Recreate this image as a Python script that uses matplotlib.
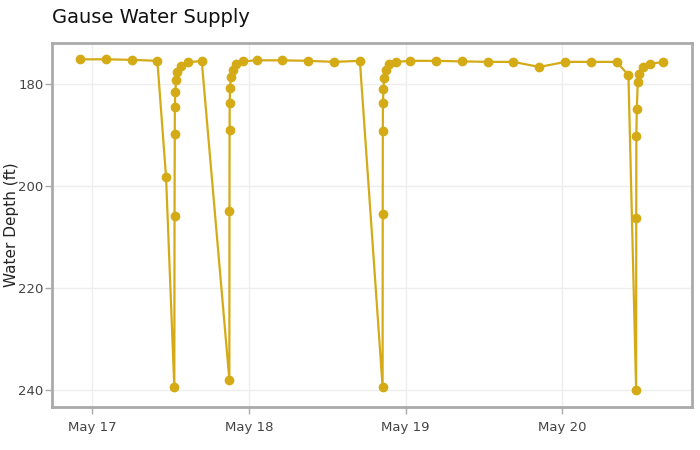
import matplotlib
matplotlib.use('Agg')
import matplotlib.pyplot as plt
import matplotlib.dates as mdates
import pandas as pd

# readings (time, depth in ft)
times = [
    '2023-05-16 22:07', '2023-05-17 02:06', '2023-05-17 06:02', '2023-05-17 09:58',
    '2023-05-17 11:18', '2023-05-17 12:34', '2023-05-17 12:36', '2023-05-17 12:38',
    '2023-05-17 12:39', '2023-05-17 12:43', '2023-05-17 12:50', '2023-05-17 13:02',
    '2023-05-17 13:38', '2023-05-17 14:43', '2023-05-17 16:46', '2023-05-17 21:00',
    '2023-05-17 21:01', '2023-05-17 21:02', '2023-05-17 21:03', '2023-05-17 21:06',
    '2023-05-17 21:13', '2023-05-17 21:31', '2023-05-17 22:01', '2023-05-17 23:03',
    '2023-05-18 01:12', '2023-05-18 05:07', '2023-05-18 09:06', '2023-05-18 13:05',
    '2023-05-18 17:00', '2023-05-18 20:29', '2023-05-18 20:30', '2023-05-18 20:31',
    '2023-05-18 20:32', '2023-05-18 20:37', '2023-05-18 20:43', '2023-05-18 21:01',
    '2023-05-18 21:32', '2023-05-18 22:34', '2023-05-19 00:42', '2023-05-19 04:41',
    '2023-05-19 08:37', '2023-05-19 12:36', '2023-05-19 16:31', '2023-05-19 20:30',
    '2023-05-20 00:29', '2023-05-20 04:25', '2023-05-20 08:21', '2023-05-20 10:09',
    '2023-05-20 11:20', '2023-05-20 11:21', '2023-05-20 11:22', '2023-05-20 11:26',
    '2023-05-20 11:35', '2023-05-20 11:50', '2023-05-20 12:21', '2023-05-20 13:28',
    '2023-05-20 15:30',
]
depth = [
    175.1, 175.1, 175.2, 175.4,
    198.2, 239.5, 205.9, 189.8,
    184.4, 181.5, 179.2, 177.5,
    176.4, 175.7, 175.4, 238.0,
    204.9, 189.0, 183.7, 180.8,
    178.6, 177.1, 176.0, 175.5,
    175.3, 175.3, 175.4, 175.6,
    175.4, 239.4, 205.5, 189.1,
    183.7, 180.9, 178.7, 177.2,
    176.1, 175.6, 175.4, 175.4,
    175.5, 175.6, 175.6, 176.6,
    175.6, 175.6, 175.6, 178.2,
    240.0, 206.2, 190.2, 184.8,
    179.6, 178.0, 176.7, 176.0,
    175.6,
]
y_ticks = [180, 200, 220, 240]

t = pd.to_datetime(times)
color = '#d4ab17'

fig = plt.figure(figsize=(7, 4.5), dpi=100)
ax = fig.add_axes([0.0743, 0.0956, 0.9143, 0.8088])

ax.plot(t, depth, color=color, lw=1.6, marker='o', ms=6, mec=color, mfc=color, zorder=3)

ax.set_ylim(243.34, 171.9)
ax.set_xlim(pd.Timestamp('2023-05-17') - pd.Timedelta(days=0.2573),
            pd.Timestamp('2023-05-17') + pd.Timedelta(days=3.829))
ax.set_yticks(y_ticks)
ax.xaxis.set_major_locator(mdates.DayLocator())
ax.xaxis.set_major_formatter(mdates.DateFormatter('%b %d'))

ax.grid(True, color='#eeeeee', lw=1)
ax.set_axisbelow(True)
for s in ax.spines.values():
    s.set_color('#aaaaaa')
    s.set_linewidth(2)
ax.tick_params(axis='both', colors='#aaaaaa', labelcolor='#444444', labelsize=9.5,
               length=5, width=1, direction='out', pad=1)
ax.tick_params(axis='x', pad=5)
for lab in ax.get_xticklabels() + ax.get_yticklabels():
    lab.set_family('DejaVu Sans')

ax.set_ylabel('Water Depth (ft)', fontsize=11, color='#222222', family='DejaVu Sans', va='center')
ax.yaxis.set_label_coords(-0.063, 0.5)
fig.text(0.074, 0.962, 'Gause Water Supply', fontsize=14, family='DejaVu Sans',
         color='#111111', ha='left', va='center')

fig.savefig('out.png', dpi=100)
